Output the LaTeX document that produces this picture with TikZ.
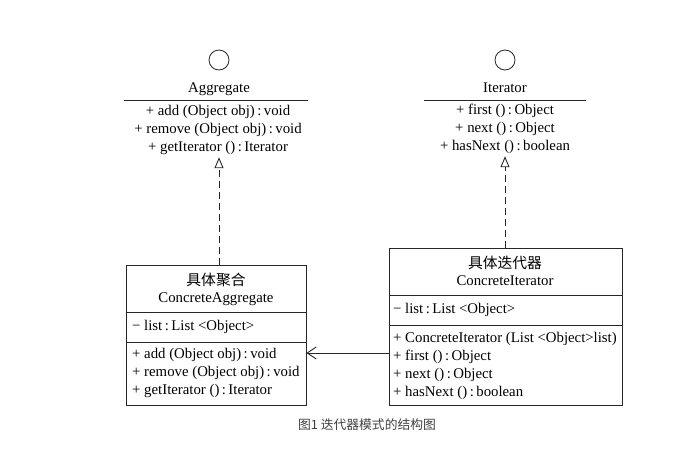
\documentclass[tikz,border=0pt]{standalone}
\usepackage{fontspec}
\setmainfont{Liberation Serif}
\newfontfamily\cjk{Noto Sans CJK SC}
\usetikzlibrary{arrows.meta}

\begin{document}
\begin{tikzpicture}[
  x=1pt, y=-1pt,
  font=\fontsize{14.8}{17}\selectfont,
  every node/.style={inner sep=0pt, text height=11pt, text depth=2pt},
  classbox/.style={draw=black!85, line width=0.9pt, rectangle},
  sep/.style={draw=black!85, line width=0.9pt},
  iface/.style={circle, draw=black!85, line width=0.8pt, minimum size=20pt},
  member/.style={anchor=west},
  realize/.style={draw=black!85, line width=0.9pt, dash pattern=on 7pt off 4pt,
    -{Triangle[open, length=11pt, width=9pt]}, shorten >=3.5pt},
  assoc/.style={draw=black!85, line width=0.9pt, -{Straight Barb[length=9pt, width=12pt]}},
  >=latex
]
\useasboundingbox (0,0) rectangle (692,461);

% interface Aggregate
\node[iface] (aggcirc) at (219,60) {};
\node (aggname) at (219,88) {Aggregate};
\draw[sep] (124,100) -- (308,100);
\node (aggadd) at (218,111) {+ add (Object obj)\,:\,void};
\node (aggremove) at (218,129) {+ remove (Object obj)\,:\,void};
\node (agggetit) at (218,147) {+ getIterator ()\,:\,Iterator};

% interface Iterator
\node[iface] (itcirc) at (505,60) {};
\node (itname) at (505,88) {Iterator};
\draw[sep] (424,100) -- (586,100);
\node (itfirst) at (505,110) {+ first ()\,:\,Object};
\node (itnext) at (505,128) {+ next ()\,:\,Object};
\node (ithasnext) at (505,146) {+ hasNext ()\,:\,boolean};

% class ConcreteAggregate
\node[classbox, minimum width=180pt, minimum height=140pt] (cagg) at (216,335) {};
\node (caggcn) at (216,281) {\cjk 具体聚合};
\node (caggname) at (216,298) {ConcreteAggregate};
\draw[sep] (cagg.west |- 0,312) -- (cagg.east |- 0,312);
\node[member] (cagglist) at (132,326) {− list\,:\,List <Object>};
\draw[sep] (cagg.west |- 0,342) -- (cagg.east |- 0,342);
\node[member] (caggadd) at (132,354) {+ add (Object obj)\,:\,void};
\node[member] (caggremove) at (132,372) {+ remove (Object obj)\,:\,void};
\node[member] (agggetit2) at (132,390) {+ getIterator ()\,:\,Iterator};

% class ConcreteIterator
\node[classbox, minimum width=233pt, minimum height=157pt] (citer) at (505.5,326.5) {};
\node (citercn) at (505,264) {\cjk 具体迭代器};
\node (citername) at (505,281) {ConcreteIterator};
\draw[sep] (citer.west |- 0,295) -- (citer.east |- 0,295);
\node[member] (citerlist) at (393,309) {− list\,:\,List <Object>};
\draw[sep] (citer.west |- 0,325) -- (citer.east |- 0,325);
\node[member] (citerctor) at (393,338) {+ ConcreteIterator (List <Object>list)};
\node[member] (citerfirst) at (393,356) {+ first ()\,:\,Object};
\node[member] (citernext) at (393,374) {+ next ()\,:\,Object};
\node[member] (citerhasnext) at (393,392) {+ hasNext ()\,:\,boolean};

% relations
\draw[realize] (aggcirc |- cagg.north) -- (aggcirc |- agggetit.south);
\draw[realize] (itcirc |- citer.north) -- (itcirc |- ithasnext.south);
\coordinate (assocy) at (0,353);
\draw[assoc] (citer.west |- assocy) -- (cagg.east |- assocy);

\node[text=black!75, font=\cjk\fontsize{12.8}{15}\selectfont] (caption) at (367,425) {图1 迭代器模式的结构图};
\end{tikzpicture}
\end{document}
